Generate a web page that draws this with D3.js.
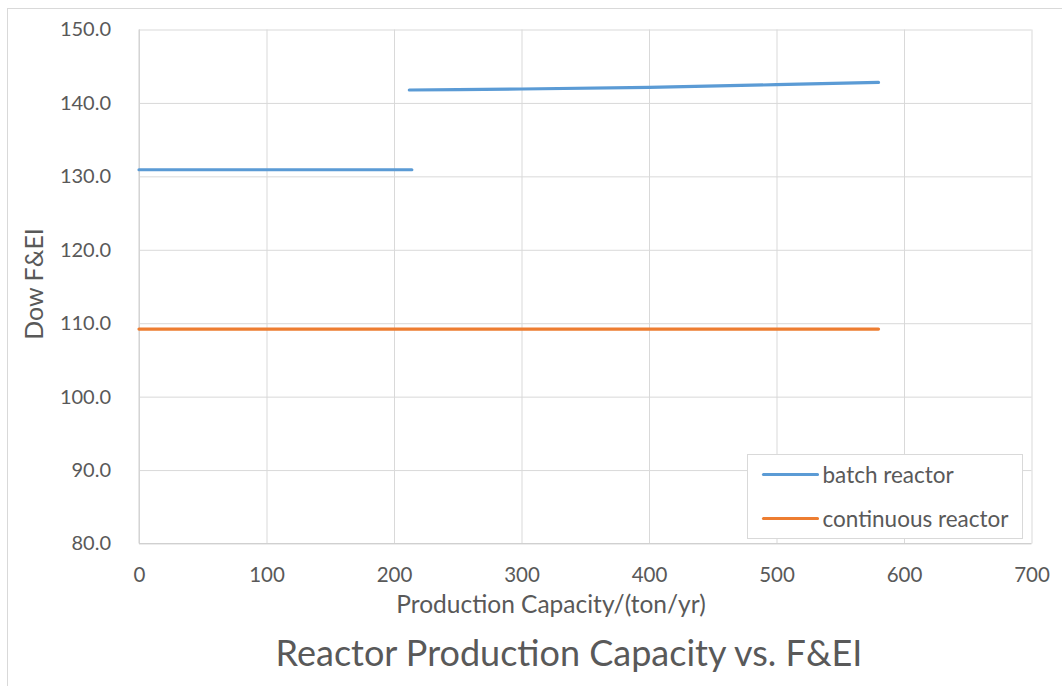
<!DOCTYPE html>
<html>
<head>
<meta charset="utf-8">
<script src="https://cdn.jsdelivr.net/npm/d3@7"></script>
<style>
  body { margin: 0; background: #fff; }
  text { font-family: Lato, "Open Sans", sans-serif; fill: #595959; }
</style>
</head>
<body>
<div id="chart"></div>
<script>
// data
var batchX = [0, 100, 178, 214, null, 212, 250, 300, 400, 500, 580];
var batchY = [130.9, 130.9, 130.9, 130.9, null, 141.76, 141.8, 141.9, 142.13, 142.48, 142.8];
var contX = [0, 100, 200, 300, 400, 500, 580];
var contY = [109.2, 109.2, 109.2, 109.2, 109.2, 109.2, 109.2];
var xTicks = [0, 100, 200, 300, 400, 500, 600, 700];
var yTicks = [80, 90, 100, 110, 120, 130, 140, 150];
var seriesNames = ["batch reactor", "continuous reactor"];
var seriesColors = ["#5b9bd5", "#ed7d31"];

var W = 1062, H = 686;
var margin = {top: 29.5, right: 30.5, bottom: 142.5, left: 139};
var width = W - margin.left - margin.right,
    height = H - margin.top - margin.bottom;

var svg = d3.select("#chart").append("svg")
    .attr("width", W)
    .attr("height", H);

// outer chart frame
svg.append("rect")
    .attr("x", 7.5).attr("y", 8.5)
    .attr("width", 1200).attr("height", 900)
    .attr("fill", "none")
    .attr("stroke", "#d9d9d9");

var g = svg.append("g")
    .attr("transform", `translate(${margin.left},${margin.top})`);

var x = d3.scaleLinear().domain([0, 700]).range([0, width]);
var y = d3.scaleLinear().domain([80, 150]).range([height, 0]);

// gridlines
g.append("g")
    .attr("transform", `translate(0,${height})`)
    .call(d3.axisBottom(x).tickValues(xTicks).tickSize(-height).tickFormat(""))
    .call(function(a) { a.select(".domain").remove(); })
    .selectAll("line").attr("stroke", "#d9d9d9");

g.append("g")
    .call(d3.axisLeft(y).tickValues(yTicks).tickSize(-width).tickFormat(""))
    .call(function(a) { a.select(".domain").remove(); })
    .selectAll("line").attr("stroke", "#d9d9d9");

// axis lines
g.append("line").attr("x1", 0).attr("x2", 0).attr("y1", 0).attr("y2", height)
    .attr("stroke", "#d0d0d0");
g.append("line").attr("x1", 0).attr("x2", width).attr("y1", height).attr("y2", height)
    .attr("stroke", "#d0d0d0");

// tick labels
var xAxis = g.append("g")
    .attr("transform", `translate(0,${height})`)
    .call(d3.axisBottom(x).tickValues(xTicks).tickSize(0).tickPadding(24).tickFormat(d3.format("d")));
xAxis.select(".domain").remove();
xAxis.selectAll("text").style("font-size", "20.5px").attr("fill", "#595959")
    .style("font-family", "Lato, sans-serif");

var yAxis = g.append("g")
    .call(d3.axisLeft(y).tickValues(yTicks).tickSize(0).tickPadding(28).tickFormat(d3.format(".1f")));
yAxis.select(".domain").remove();
yAxis.selectAll("text").style("font-size", "20px").attr("fill", "#595959")
    .style("font-family", "Lato, sans-serif");

// series
function pts(xs, ys) {
    return xs.map(function(v, i) { return {x: v, y: ys[i]}; });
}
var line = d3.line()
    .defined(function(d) { return d.x !== null && d.y !== null; })
    .x(function(d) { return x(d.x); })
    .y(function(d) { return y(d.y); });

g.append("path")
    .datum(pts(contX, contY))
    .attr("fill", "none")
    .attr("stroke", seriesColors[1])
    .attr("stroke-width", 3.2)
    .attr("stroke-linecap", "round")
    .attr("d", line);

g.append("path")
    .datum(pts(batchX, batchY))
    .attr("fill", "none")
    .attr("stroke", seriesColors[0])
    .attr("stroke-width", 3.2)
    .attr("stroke-linecap", "round")
    .attr("d", line);

// axis titles
svg.append("text")
    .attr("x", 551).attr("y", 613)
    .attr("text-anchor", "middle")
    .style("font-size", "24.5px")
    .text("Production Capacity/(ton/yr)");

svg.append("text")
    .attr("transform", "translate(43,284) rotate(-90)")
    .attr("text-anchor", "middle")
    .style("font-size", "25px")
    .text("Dow F&EI");

// chart title
svg.append("text")
    .attr("x", 569).attr("y", 666)
    .attr("text-anchor", "middle")
    .style("font-size", "36px")
    .text("Reactor Production Capacity vs. F&EI");

// legend
var legend = svg.append("g").attr("transform", "translate(747.5,454.5)");
legend.append("rect")
    .attr("width", 275).attr("height", 84)
    .attr("fill", "#fff")
    .attr("stroke", "#d9d9d9");
seriesNames.forEach(function(name, i) {
    var ly = 20 + i * 44;
    legend.append("line")
        .attr("x1", 16).attr("x2", 70).attr("y1", ly).attr("y2", ly)
        .attr("stroke", seriesColors[i])
        .attr("stroke-width", 3.2)
        .attr("stroke-linecap", "round");
    legend.append("text")
        .attr("x", 75).attr("y", ly + 8)
        .style("font-size", "22.5px")
        .text(name);
});
</script>
</body>
</html>
